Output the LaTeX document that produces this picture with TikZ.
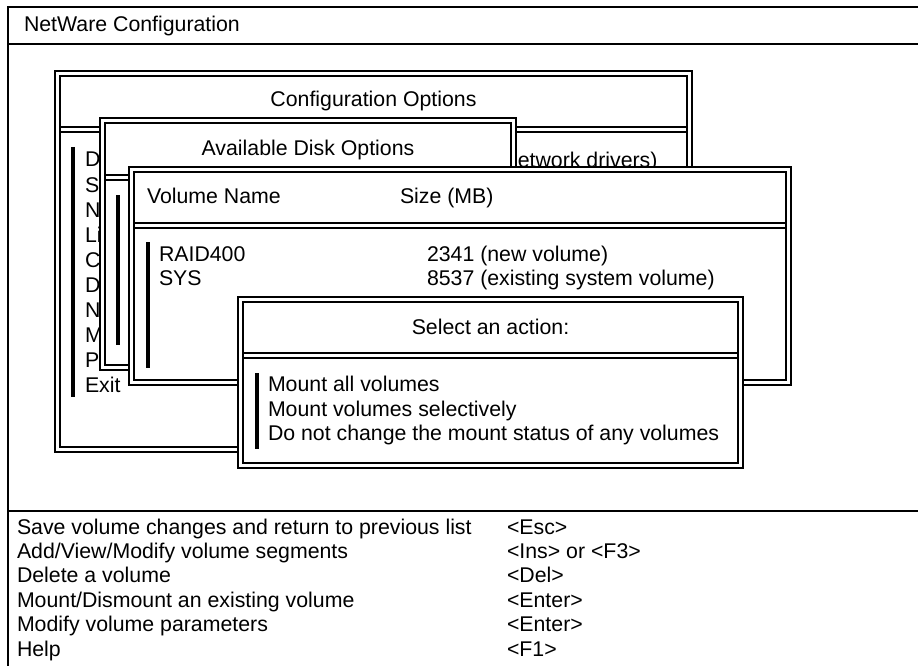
\documentclass[tikz,border=0pt]{standalone}
\usepackage{fontspec}
\setmainfont{Liberation Sans}
\begin{document}
\begin{tikzpicture}[x=1pt,y=-1pt,
  frame/.style={line width=1.3pt,black},
  wline/.style={line width=1.4pt,black},
  bar/.style={line width=3.5pt,black},
  txt/.style={inner sep=0pt,outer sep=0pt,anchor=base west,font=\fontsize{21.3}{25}\selectfont},
  ctxt/.style={txt,anchor=base}]
\useasboundingbox (0,0) rectangle (918,666);
\fill[white] (0,0) rectangle (918,666);
% main frame
\draw[frame] (8,666) -- (8,7) -- (918,7);
\draw[line width=1.7pt] (8,44) -- (918,44);
\draw[line width=2.6pt] (8,511) -- (918,511);
\node[txt] (title) at (24,32) {NetWare Configuration};
% window 1
\filldraw[wline,fill=white] (55,71) rectangle (692,452);
\draw[wline] (60,76) rectangle (687,447);
\draw[wline] (60,127) -- (687,127) (60,132) -- (687,132);
\node[ctxt] (w1t) at (373.5,107) {Configuration Options};
\draw[bar] (73,147) -- (73,397);
\foreach \s [count=\i from 0] in {D,S,N,Li,C,D,N,M,P,Exit}
  \node[txt] (w1l\i) at (85,167+25*\i) {\s};
\node[txt] (w1net) at (506,167.5) {network drivers)};
% window 2
\filldraw[wline,fill=white] (100,118) rectangle (516,370);
\draw[wline] (105,123) rectangle (511,365);
\draw[wline] (105,175) -- (511,175) (105,180) -- (511,180);
\node[ctxt] (w2t) at (308,155) {Available Disk Options};
\draw[bar] (118,195) -- (118,345);
% window 3
\filldraw[wline,fill=white] (129,167) rectangle (791,385);
\draw[wline] (134,172) rectangle (786,380);
\draw[wline] (134,223) -- (786,223) (134,228) -- (786,228);
\node[txt] (w3a) at (147,203) {Volume Name};
\node[txt] (w3b) at (400,203) {Size (MB)};
\draw[bar] (148,242) -- (148,368);
\node[txt] (r1a) at (159,261.7) {RAID400};
\node[txt] (r2a) at (159,285) {SYS};
\node[txt] (r1b) at (427,261.7) {2341 (new volume)};
\node[txt] (r2b) at (427,285) {8537 (existing system volume)};
% window 4
\filldraw[wline,fill=white] (238,297) rectangle (743,468);
\draw[wline] (243,302) rectangle (738,463);
\draw[wline] (243,353) -- (738,353) (243,358) -- (738,358);
\node[ctxt] (w4t) at (490.5,334) {Select an action:};
\draw[bar] (257,373) -- (257,449);
\node[txt] (a1) at (268,391.7) {Mount all volumes};
\node[txt] (a2) at (268,416) {Mount volumes selectively};
\node[txt] (a3) at (268,440) {Do not change the mount status of any volumes};
% bottom help
\foreach \t/\k [count=\i from 0] in {Save volume changes and return to previous list/{<Esc>},
  Add{/}View{/}Modify volume segments/{<Ins> or <F3>},
  Delete a volume/{<Del>},
  Mount{/}Dismount an existing volume/{<Enter>},
  Modify volume parameters/{<Enter>},
  Help/{<F1>}}
  {\node[txt] (h\i) at (17,534+24.4*\i) {\t};
   \node[txt] (k\i) at (507,534+24.4*\i) {\k};}
\end{tikzpicture}
\end{document}
